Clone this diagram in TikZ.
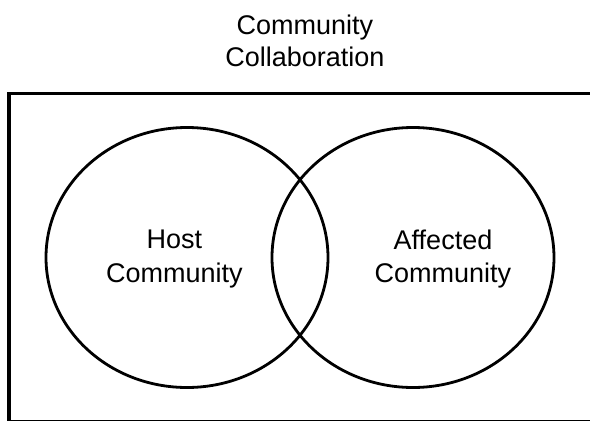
\documentclass[tikz,border=0pt]{standalone}
\usepackage{fontspec}
\setmainfont{Liberation Sans}
\usetikzlibrary{shapes.geometric}
\begin{document}
\begin{tikzpicture}[x=1pt,y=-1pt,
  lbl/.style={align=center,font=\fontsize{27}{33.5}\selectfont,inner sep=0pt},
  venn/.style={ellipse,draw=black,line width=2.8pt,minimum width=282pt,minimum height=260pt,inner sep=0pt},
  frame/.style={draw=black,line width=3.2pt}]
\useasboundingbox (0,0) rectangle (590,421);
\begin{scope}
  \clip (0,0) rectangle (590,421);
  \draw[frame] (9,93.5) rectangle (610,421.4);
\end{scope}
\node[lbl,font=\fontsize{27}{32.3}\selectfont] (title) at (305,41) {Community\\Collaboration};
\node[venn] (host) at (187,257.5) {};
\node[venn] (aff) at (413,257.5) {};
\node[lbl] (hostlbl) at (174.5,259) {Host\\Community};
\node[lbl] (afflbl) at (443,259) {Affected\\Community};
\end{tikzpicture}
\end{document}
